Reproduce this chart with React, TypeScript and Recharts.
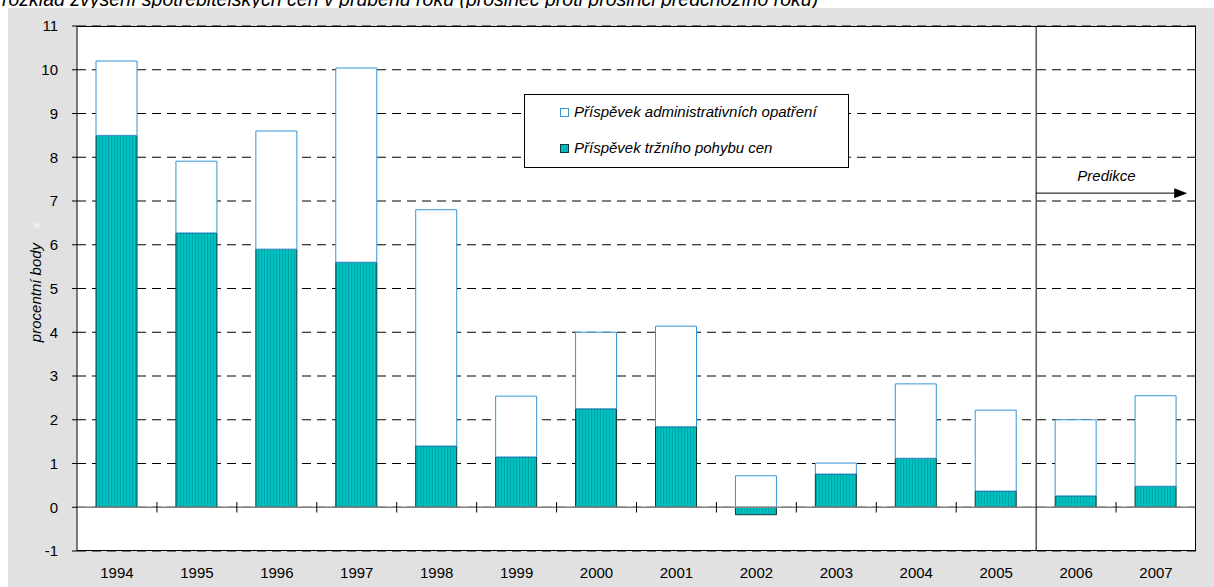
import React from 'react';
import { BarChart, Bar, XAxis, YAxis, CartesianGrid, ReferenceLine } from 'recharts';

const years = ['1994', '1995', '1996', '1997', '1998', '1999', '2000', '2001', '2002', '2003', '2004', '2005', '2006', '2007'];
// příspěvek tržního pohybu cen
const market = [8.5, 6.27, 5.9, 5.6, 1.4, 1.15, 2.25, 1.84, -0.17, 0.76, 1.12, 0.37, 0.26, 0.48];
// příspěvek administrativních opatření
const admin = [1.7, 1.64, 2.7, 4.44, 5.4, 1.39, 1.75, 2.3, 0.72, 0.25, 1.7, 1.85, 1.74, 2.07];
const yTicks = [-1, 0, 1, 2, 3, 4, 5, 6, 7, 8, 9, 10, 11];
const predikceStart = '2006';
const predikceY = 7.18;

const data = years.map((year, i) => ({ year, market: market[i], admin: admin[i] }));

const FONT = "Arial, 'Liberation Sans', sans-serif";
const TEAL = '#00c2c2';
const BLUE = '#3594d4';

// arrow runs from the start of the forecast band to just short of the plot's right edge
const PredikceArrow = (props: any) => {
  const { x1, y1, x2 } = props;
  const band = x2 - x1;
  const tip = x1 + band * 1.89;
  return (
    <g>
      <line x1={x1} y1={y1} x2={tip - 10} y2={y1} stroke="#000" strokeWidth={1} />
      <polygon points={`${tip},${y1} ${tip - 13},${y1 - 5} ${tip - 13},${y1 + 5}`} fill="#000" />
      <text x={x1 + band * 0.88} y={y1 - 12} textAnchor="middle" fontFamily={FONT} fontSize={15} fontStyle="italic" fill="#000">
        Predikce
      </text>
    </g>
  );
};

const YLabel = (props: any) => {
  const { viewBox } = props;
  const cy = viewBox.y + viewBox.height / 2 + 4;
  return (
    <g>
      <text x={41} y={cy} transform={`rotate(-90, 41, ${cy})`} textAnchor="middle" fontFamily={FONT} fontSize={15} fontStyle="italic" fill="#000">
        procentní body
      </text>
      <text x={39} y={cy - 67} transform={`rotate(-90, 39, ${cy - 67})`} textAnchor="middle" fontFamily={FONT} fontSize={9} fontStyle="italic" fill="#fff">
        a
      </text>
    </g>
  );
};

const Swatch = ({ kind }: { kind: string }) => (
  <svg width={9} height={9} style={{ marginRight: 5, verticalAlign: 'middle', position: 'relative', top: -1 }}>
    {kind === 'admin' ? (
      <rect x={0.5} y={0.5} width={8} height={8} fill="#fff" stroke={BLUE} />
    ) : (
      <rect x={0.5} y={0.5} width={8} height={8} fill="url(#stripesLegend)" stroke="#0a3a3a" />
    )}
  </svg>
);

export default function App() {
  return (
    <div style={{ position: 'absolute', left: 0, top: 0, width: 1214, height: 587, background: '#fff', overflow: 'hidden' }}>
      <div style={{ position: 'absolute', left: 2, top: -11.5, fontFamily: FONT, fontStyle: 'italic', fontSize: 19.5, lineHeight: '20px', whiteSpace: 'nowrap', color: '#000' }}>
        rozklad zvýšení spotřebitelských cen v průběhu roku (prosinec proti prosinci předchozího roku)
      </div>
      <div style={{ position: 'absolute', left: 8, top: 8, right: 0, bottom: 0, background: '#e1e1e1' }} />
      <svg width={0} height={0} style={{ position: 'absolute' }}>
        <defs>
          <pattern id="stripesLegend" width={3} height={3} patternUnits="userSpaceOnUse">
            <rect width={3} height={3} fill={TEAL} />
            <rect width={1} height={3} fill="#00a6a6" />
          </pattern>
        </defs>
      </svg>
      <div style={{ position: 'absolute', left: 0, top: 0 }}>
        <BarChart
          width={1214}
          height={587}
          data={data}
          stackOffset="sign"
          barSize={41}
          margin={{ top: 26, right: 18, left: 17, bottom: 6 }}
        >
          <defs>
            <pattern id="stripes" width={3} height={3} patternUnits="userSpaceOnUse">
              <rect width={3} height={3} fill={TEAL} />
              <rect width={1} height={3} fill="#00a6a6" />
            </pattern>
          </defs>
          <CartesianGrid vertical={false} fill="#fff" stroke="#000" strokeDasharray="9 6" />
          <XAxis
            dataKey="year"
            axisLine={false}
            tickLine={false}
            tickSize={0}
            tickMargin={16}
            height={30}
            interval={0}
            tick={{ fontFamily: FONT, fontSize: 15, fill: '#000' }}
          />
          <YAxis
            domain={[-1, 11]}
            ticks={yTicks}
            interval={0}
            width={60}
            tickSize={5}
            tickMargin={14}
            axisLine={{ stroke: '#000' }}
            tickLine={{ stroke: '#000' }}
            tick={{ fontFamily: FONT, fontSize: 15, fill: '#000' }}
            label={<YLabel />}
          />
          <ReferenceLine y={0} stroke="#808080" strokeWidth={1.5} />
          <Bar dataKey="market" stackId="a" fill="url(#stripes)" stroke="#0a3a3a" strokeWidth={1} isAnimationActive={false} />
          <Bar dataKey="admin" stackId="a" fill="#fff" stroke={BLUE} strokeWidth={1} isAnimationActive={false} />
          {years.slice(1).filter((y) => y !== predikceStart).map((y) => (
            <ReferenceLine
              key={y}
              position="start"
              segment={[{ x: y, y: -0.12 }, { x: y, y: 0.12 }]}
              stroke="#000"
            />
          ))}
          <ReferenceLine x={predikceStart} position="start" stroke="#000" />
          <ReferenceLine
            position="start"
            segment={[{ x: predikceStart, y: predikceY }, { x: years[years.length - 1], y: predikceY }]}
            shape={<PredikceArrow />}
          />
        </BarChart>
      </div>
      {/* plot frame */}
      <div style={{ position: 'absolute', left: 77, top: 26, width: 1119, height: 525, border: '1px solid #000', borderLeft: 'none', boxSizing: 'border-box', pointerEvents: 'none' }} />
      <div
        style={{
          position: 'absolute',
          left: 524,
          top: 94,
          width: 323,
          height: 72,
          border: '1px solid #000',
          background: '#fff',
          fontFamily: FONT,
          fontStyle: 'italic',
          fontSize: 15,
          color: '#000',
        }}
      >
        <div style={{ position: 'absolute', left: 35, top: 8, whiteSpace: 'nowrap', lineHeight: '18px' }}>
          <Swatch kind="admin" />
          Příspěvek administrativních opatření
        </div>
        <div style={{ position: 'absolute', left: 35, top: 44, whiteSpace: 'nowrap', lineHeight: '18px' }}>
          <Swatch kind="market" />
          Příspěvek tržního pohybu cen
        </div>
      </div>
    </div>
  );
}
